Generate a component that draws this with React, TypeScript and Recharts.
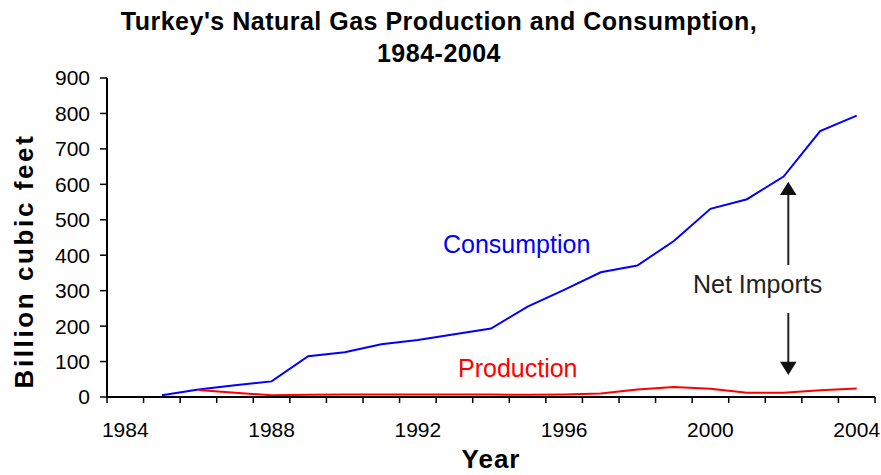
import React from "react";
import { LineChart, Line, XAxis, YAxis } from "recharts";

const years = [1984, 1985, 1986, 1987, 1988, 1989, 1990, 1991, 1992, 1993, 1994, 1995, 1996, 1997, 1998, 1999, 2000, 2001, 2002, 2003, 2004];
const consumption = [null, 5, 21, 33, 44, 115, 126, 149, 161, 177, 193, 255, 302, 352, 371, 440, 531, 558, 622, 750, 794];
const production = [null, null, 20, 12, 5, 6, 7, 7, 7, 7, 7, 6, 7, 10, 21, 28, 23, 12, 12, 19, 24];
const yearLabels = [1984, 1988, 1992, 1996, 2000, 2004];
const yTicks = [0, 100, 200, 300, 400, 500, 600, 700, 800, 900];

const W = 881;
const H = 475;
const PLOT_LEFT = 107;
const PLOT_RIGHT = 875;
const HALF = (PLOT_RIGHT - PLOT_LEFT) / years.length / 2;
const FONT = "'Liberation Sans', Arial, sans-serif";

const data = years.map((year, i) => ({
  year,
  consumption: consumption[i],
  production: production[i],
}));

// tick marks sit between categories, labels sit in the middle of a category
const boundaries = [...years.map(y => y - 0.5), years[years.length - 1] + 0.5];

function XTick(props: any) {
  const { x, y, payload } = props;
  const year = payload.value + 0.5;
  if (!yearLabels.includes(year)) return <g />;
  return (
    <text x={x + HALF} y={y + 32} textAnchor="middle" fontSize={21} fill="#000" fontFamily={FONT}>
      {year}
    </text>
  );
}

export default function App() {
  return (
    <div style={{ position: "absolute", left: 0, top: 0, width: W, height: H, background: "#fff" }}>
      <LineChart
        width={W}
        height={H}
        data={data}
        margin={{ top: 78, right: W - PLOT_RIGHT, bottom: 48, left: PLOT_LEFT - 60 }}
        style={{ fontFamily: FONT }}
      >
        <XAxis
          dataKey="year"
          type="number"
          domain={[boundaries[0], boundaries[boundaries.length - 1]]}
          ticks={boundaries}
          interval={0}
          height={30}
          axisLine={{ stroke: "#000", strokeWidth: 2 }}
          tickLine={{ stroke: "#000", strokeWidth: 1.5 }}
          tickSize={6}
          tick={<XTick />}
        />
        <YAxis
          type="number"
          domain={[0, 900]}
          ticks={yTicks}
          interval={0}
          width={60}
          axisLine={{ stroke: "#000", strokeWidth: 2 }}
          tickLine={{ stroke: "#000", strokeWidth: 1.5 }}
          tickSize={7}
          tickMargin={10}
          tick={{ fontSize: 21, fill: "#000", fontFamily: FONT }}
        />
        <Line
          dataKey="consumption"
          type="linear"
          stroke="#0000ff"
          strokeWidth={2}
          dot={false}
          isAnimationActive={false}
        />
        <Line
          dataKey="production"
          type="linear"
          stroke="#ff0000"
          strokeWidth={2}
          dot={false}
          isAnimationActive={false}
        />
      </LineChart>
      <svg
        width={W}
        height={H}
        style={{ position: "absolute", left: 0, top: 0, pointerEvents: "none" }}
        fontFamily={FONT}
      >
        <text x={439} y={30} textAnchor="middle" fontSize={25} fontWeight="bold" letterSpacing={0.5}>
          Turkey's Natural Gas Production and Consumption,
        </text>
        <text x={439} y={62} textAnchor="middle" fontSize={25} fontWeight="bold" letterSpacing={0.5}>
          1984-2004
        </text>
        <text
          x={33}
          y={261}
          textAnchor="middle"
          fontSize={26}
          fontWeight="bold"
          letterSpacing={2.6}
          transform="rotate(-90, 33, 261)"
        >
          Billion cubic feet
        </text>
        <text x={491} y={468} textAnchor="middle" fontSize={26} fontWeight="bold" letterSpacing={1}>
          Year
        </text>
        <text x={443} y={253} fontSize={25} fill="#0000ff">Consumption</text>
        <text x={458} y={377} fontSize={25} fill="#ff0000">Production</text>
        <text x={693} y={293} fontSize={25} fill="#222">Net Imports</text>
        <line x1={788.3} y1={194} x2={788.3} y2={265} stroke="#222" strokeWidth={2} />
        <polygon points="780,195 796.6,195 788.3,181.7" fill="#111" />
        <line x1={788.3} y1={313} x2={788.3} y2={362} stroke="#222" strokeWidth={2} />
        <polygon points="780,361.7 796.6,361.7 788.3,375" fill="#111" />
      </svg>
    </div>
  );
}
